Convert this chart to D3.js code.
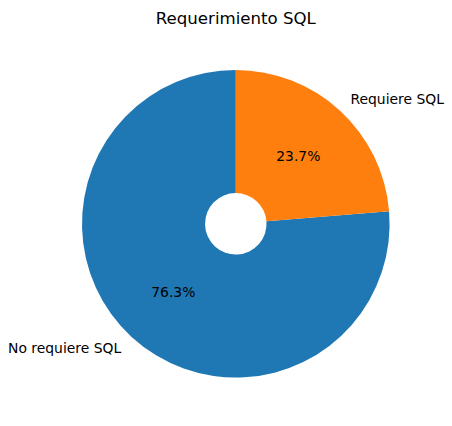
<!DOCTYPE html>
<html><head><meta charset="utf-8">
<script src="https://cdn.jsdelivr.net/npm/d3@7"></script>
<style>body{margin:0;background:#fff}svg{display:block}text{font-family:"DejaVu Sans",sans-serif}</style>
</head><body>
<script>
const categories = ["No requiere SQL", "Requiere SQL"];
const values = [76.3, 23.7];
const colors = ["#1f77b4", "#ff7f0e"];
const title = "Requerimiento SQL";

const W = 452, H = 426;
const cx = 235.8, cy = 223.8, R = 153.8, r0 = R * 0.2;
const svg = d3.select("body").append("svg").attr("width", W).attr("height", H);

const pie = d3.pie().sort(null).startAngle(0).endAngle(-2 * Math.PI);
const arcs = pie(values);
const arc = d3.arc().innerRadius(r0).outerRadius(R);
const g = svg.append("g").attr("transform", `translate(${cx},${cy})`);
const color = d3.scaleOrdinal().domain(categories).range(colors);

g.selectAll("path").data(arcs).join("path")
  .attr("d", arc).attr("fill", (d, i) => color(categories[i]));

const total = d3.sum(values);
arcs.forEach((d, i) => {
  const mid = (d.startAngle + d.endAngle) / 2;
  const sx = Math.sin(mid), sy = -Math.cos(mid);
  g.append("text")
    .attr("x", 1.1 * R * sx).attr("y", 1.1 * R * sy)
    .attr("dy", "0.35em")
    .attr("text-anchor", sx > 0 ? "start" : "end")
    .attr("font-size", "13.9px").attr("fill", "#000")
    .text(categories[i]);
  g.append("text")
    .attr("x", 0.6 * R * sx).attr("y", 0.6 * R * sy)
    .attr("dy", "0.35em")
    .attr("text-anchor", "middle")
    .attr("font-size", "13.9px").attr("fill", "#000")
    .text((values[i] / total * 100).toFixed(1) + "%");
});

svg.append("text").attr("x", cx).attr("y", 24)
  .attr("text-anchor", "middle").attr("font-size", "16.6px").attr("fill", "#000")
  .text(title);
</script>
</body></html>
